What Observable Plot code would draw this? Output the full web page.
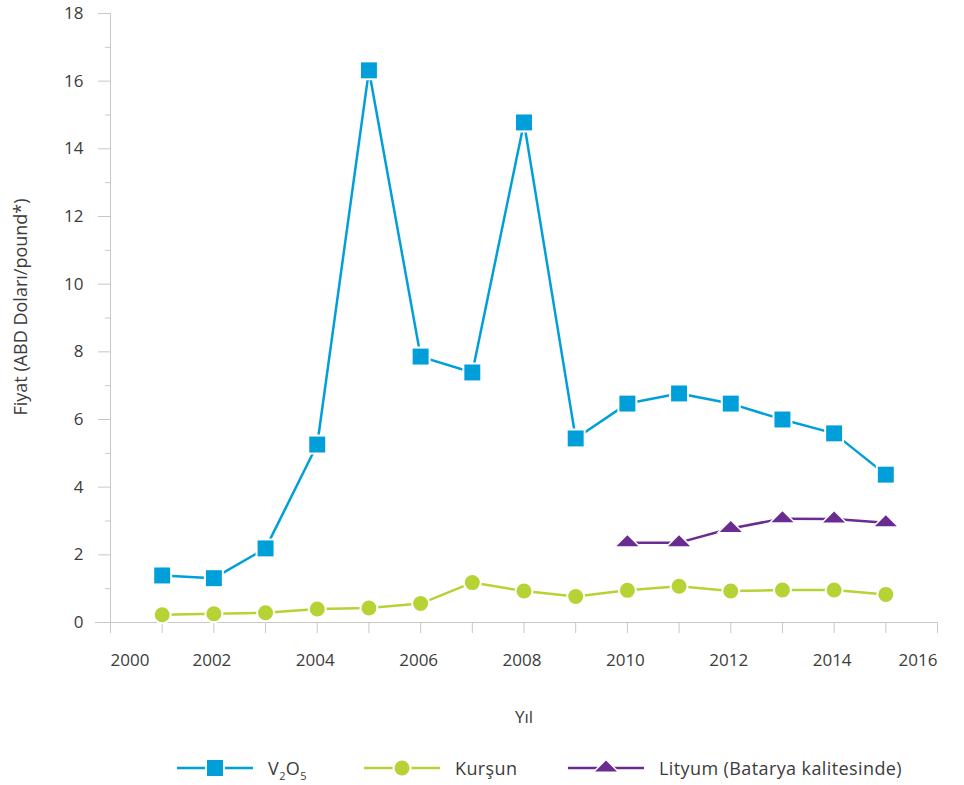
<!DOCTYPE html>
<html><head><meta charset="utf-8">
<script src="https://cdn.jsdelivr.net/npm/d3@7"></script>
<script src="https://cdn.jsdelivr.net/npm/@observablehq/plot@0.6"></script>
<style>
body{margin:0;background:#fff;font-family:"Open Sans",sans-serif;}
#chart{position:relative;width:964px;height:785px;overflow:hidden;}
.legend{position:absolute;top:756px;left:0;width:964px;height:24px;font-size:18px;letter-spacing:0.4px;color:#3c3c3c;}
.item{position:absolute;top:0;display:flex;align-items:center;height:24px;white-space:nowrap;}
.item svg{margin-right:15px;display:block}
sub{font-size:11px;vertical-align:-5px;line-height:0}
</style></head><body><div id="chart"></div><script>
const years = [2001,2002,2003,2004,2005,2006,2007,2008,2009,2010,2011,2012,2013,2014,2015];
const v2o5 = [1.39,1.31,2.19,5.26,16.32,7.86,7.39,14.78,5.44,6.47,6.77,6.47,6.00,5.59,4.37];
const kursun = [0.23,0.26,0.29,0.40,0.43,0.56,1.18,0.93,0.77,0.95,1.07,0.93,0.96,0.96,0.83];
const lityumYears = [2010,2011,2012,2013,2014,2015];
const lityum = [2.36,2.36,2.78,3.07,3.06,2.95];
const xTicks = d3.range(2000, 2017);
const xLabelsMid = d3.range(2002, 2015, 2);
const yMajor = d3.range(0, 19, 2);
const yMinor = d3.range(1, 19, 2);
const yTitle = "Fiyat (ABD Doları/pound*)";
const xTitle = "Yıl";
const names = ["V2O5", "Kurşun", "Lityum (Batarya kalitesinde)"];
const colors = ["#009fda", "#b5d334", "#6a2c91"];

const vData = years.map((y, i) => ({year: y, value: v2o5[i]}));
const kData = years.map((y, i) => ({year: y, value: kursun[i]}));
const lData = lityumYears.map((y, i) => ({year: y, value: lityum[i]}));

const triSymbol = {
  draw(ctx, size) {
    ctx.moveTo(0, -7.5);
    ctx.lineTo(11, 3.5);
    ctx.lineTo(-11, 3.5);
    ctx.closePath();
  }
};

const axisGrey = "#c8c8c8";
const textCol = "#3c3c3c";
const tickFont = 17;

const plot = Plot.plot({
  width: 964, height: 740,
  marginTop: 13, marginBottom: 118, marginLeft: 110, marginRight: 27,
  style: {fontFamily: "'Open Sans', sans-serif", fontSize: tickFont + "px", color: textCol, background: "#fff"},
  x: {domain: [2000, 2016]},
  y: {domain: [0, 18]},
  marks: [
    Plot.ruleX([2000], {stroke: axisGrey, insetBottom: -11}),
    Plot.ruleY([0], {stroke: axisGrey, insetLeft: -15}),
    // x ticks (all years), no labels
    Plot.axisX({ticks: xTicks, tickSize: 11, stroke: axisGrey, tickFormat: () => "", label: null}),
    // x labels
    Plot.axisX({ticks: xLabelsMid, tickSize: 11, tickPadding: 20, stroke: "none", fill: textCol, dx: -2, tickFormat: d => String(d), label: null}),
    Plot.axisX({ticks: [2000], tickSize: 11, tickPadding: 20, stroke: "none", fill: textCol, textAnchor: "start", tickFormat: d => String(d), label: null}),
    Plot.axisX({ticks: [2016], tickSize: 11, tickPadding: 20, stroke: "none", fill: textCol, textAnchor: "end", tickFormat: d => String(d), label: null}),
    Plot.text([xTitle], {frameAnchor: "bottom", dy: 95, text: d => d, fontSize: 17, fill: textCol, lineAnchor: "middle"}),
    Plot.axisY({ticks: yMajor, tickSize: 12, tickPadding: 15, stroke: axisGrey, fill: textCol, label: null}),
    Plot.axisY({ticks: yMinor, tickSize: 5, stroke: axisGrey, tickFormat: () => "", label: null}),
    Plot.text([yTitle], {frameAnchor: "left", textAnchor: "middle", rotate: -90, dx: -89, dy: -11, text: d => d, fontSize: 18, fill: textCol, lineAnchor: "middle"}),
    Plot.line(vData, {x: "year", y: "value", stroke: colors[0], strokeWidth: 2.5}),
    Plot.line(kData, {x: "year", y: "value", stroke: colors[1], strokeWidth: 2.5}),
    Plot.line(lData, {x: "year", y: "value", stroke: colors[2], strokeWidth: 2.5}),
    Plot.dot(vData, {x: "year", y: "value", symbol: "square", r: 9, fill: colors[0], stroke: "white", strokeWidth: 4, paintOrder: "stroke"}),
    Plot.dot(kData, {x: "year", y: "value", symbol: "circle", r: 7.5, fill: colors[1], stroke: "white", strokeWidth: 4, paintOrder: "stroke"}),
    Plot.dot(lData, {x: "year", y: "value", symbol: triSymbol, r: 8, fill: colors[2], stroke: "white", strokeWidth: 3, paintOrder: "stroke"})
  ]
});
const chart = document.getElementById("chart");
chart.appendChild(plot);

// legend
const legend = document.createElement("div");
legend.className = "legend";
const lefts = [177, 364, 568];
const markers = [
  `<rect x="30" y="4" width="16" height="16" fill="${colors[0]}" stroke="white" stroke-width="4" paint-order="stroke"/>`,
  `<circle cx="38" cy="12" r="7.5" fill="${colors[1]}" stroke="white" stroke-width="4" paint-order="stroke"/>`,
  `<path d="M38,4.5L49,15.5L27,15.5Z" fill="${colors[2]}" stroke="white" stroke-width="3" paint-order="stroke"/>`
];
const labels = ["V<sub>2</sub>O<sub>5</sub>", names[1], names[2]];
names.forEach((n, i) => {
  const item = document.createElement("div");
  item.className = "item";
  item.style.left = lefts[i] + "px";
  item.innerHTML = `<svg width="76" height="24"><line x1="0" x2="76" y1="12" y2="12" stroke="${colors[i]}" stroke-width="2.5"/>${markers[i]}</svg><span>${labels[i]}</span>`;
  legend.appendChild(item);
});
chart.appendChild(legend);
</script></body></html>
